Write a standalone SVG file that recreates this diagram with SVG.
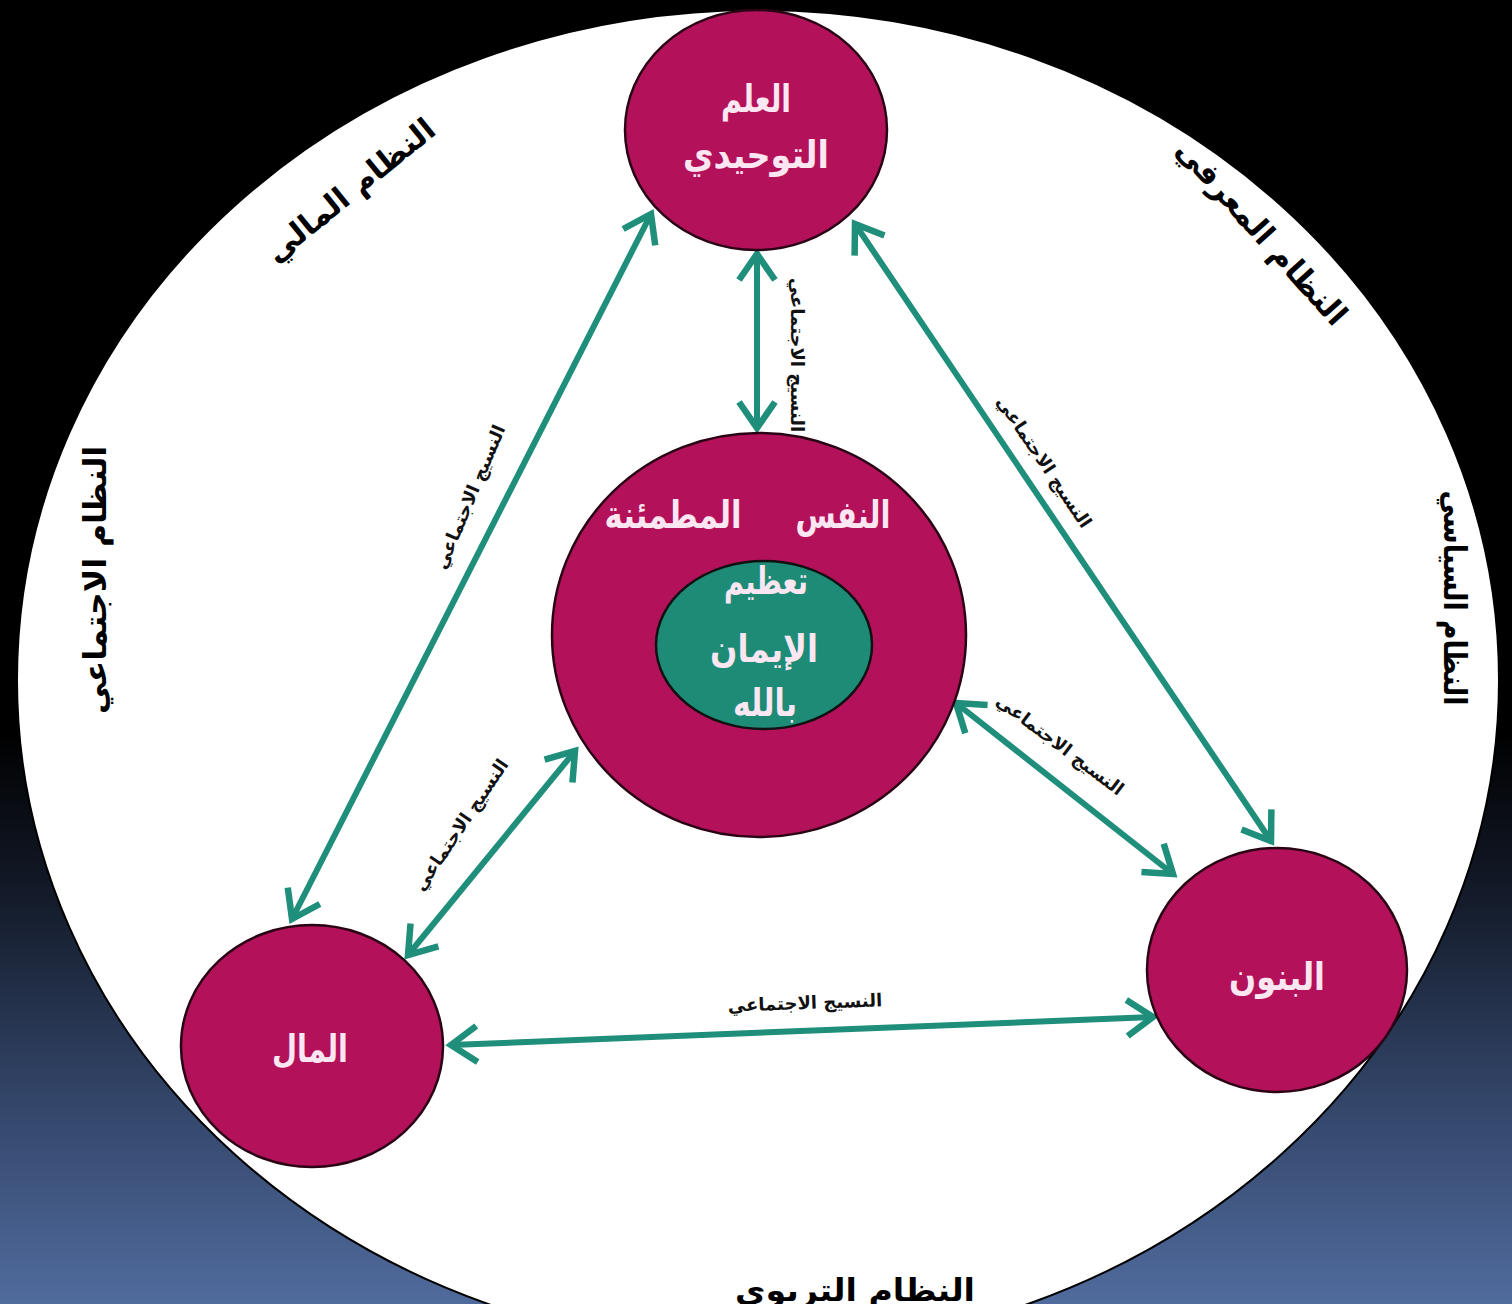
<svg xmlns="http://www.w3.org/2000/svg" width="1512" height="1304" viewBox="0 0 1512 1304">
  <defs>
    <linearGradient id="bg" x1="0" y1="0" x2="0" y2="1">
      <stop offset="0" stop-color="#000000"/>
      <stop offset="0.56" stop-color="#000000"/>
      <stop offset="0.68" stop-color="#121927"/>
      <stop offset="0.85" stop-color="#34476b"/>
      <stop offset="1" stop-color="#506b9d"/>
    </linearGradient>
    <marker id="head" viewBox="-40 -24 46 48" refX="0" refY="0" markerWidth="46" markerHeight="48" markerUnits="userSpaceOnUse" orient="auto-start-reverse">
      <path d="M-26,-18 L0,0 L-26,18" fill="none" stroke="#1f8e7a" stroke-width="6.5" stroke-linejoin="miter"/>
    </marker>
    <style>
      .node { fill: #b3115a; stroke: #2a0414; stroke-width: 2.5; }
      .core { fill: #1d8b76; stroke: #111; stroke-width: 2.5; }
      .nt { font-family: "DejaVu Sans", sans-serif; font-weight: bold; font-size: 38px; fill: #fbe6f2; text-anchor: middle; }
      .sys { font-family: "DejaVu Sans", sans-serif; font-weight: bold; font-size: 31px; fill: #000; text-anchor: middle; }
      .lbl { font-family: "DejaVu Sans", sans-serif; font-weight: bold; font-size: 18px; fill: #111; text-anchor: middle; }
      .conn { stroke: #1f8e7a; stroke-width: 6; fill: none; marker-start: url(#head); marker-end: url(#head); }
    </style>
  </defs>

  <rect x="0" y="0" width="1512" height="1304" fill="url(#bg)"/>
  <ellipse id="outer" cx="758" cy="680" rx="741" ry="670" fill="#ffffff" stroke="#000" stroke-width="2"/>

  <g id="systems">
    <text class="sys" transform="translate(350,190) rotate(-39)" y="11">النظام المالي</text>
    <text class="sys" transform="translate(1262,232) rotate(48)" y="11" textLength="238" lengthAdjust="spacingAndGlyphs">النظام المعرفي</text>
    <text class="sys" transform="translate(95,580) rotate(-90)" y="11" textLength="268" lengthAdjust="spacingAndGlyphs">النظام الاجتماعي</text>
    <text class="sys" transform="translate(1455,598) rotate(90)" y="11" textLength="215" lengthAdjust="spacingAndGlyphs">النظام السياسي</text>
    <text class="sys" x="855" y="1301" textLength="240" lengthAdjust="spacingAndGlyphs">النظام التربوي</text>
  </g>

  <g id="connectors">
    <line class="conn" x1="292" y1="919" x2="651" y2="214"/>
    <line class="conn" x1="757" y1="254" x2="757" y2="428"/>
    <line class="conn" x1="855" y1="224" x2="1271" y2="841"/>
    <line class="conn" x1="408" y1="955" x2="575" y2="751"/>
    <line class="conn" x1="956" y1="703" x2="1173" y2="874"/>
    <line class="conn" x1="451" y1="1045" x2="1153" y2="1017"/>
    <g id="connector-labels">
      <text class="lbl" transform="translate(470,497) rotate(-67)" y="6">النسيج الاجتماعي</text>
      <text class="lbl" transform="translate(797,355) rotate(90)" y="6">النسيج الاجتماعي</text>
      <text class="lbl" transform="translate(1044,462) rotate(56)" y="6">النسيج الاجتماعي</text>
      <text class="lbl" transform="translate(461,825) rotate(-56)" y="6">النسيج الاجتماعي</text>
      <text class="lbl" transform="translate(1060,745) rotate(37)" y="6">النسيج الاجتماعي</text>
      <text class="lbl" transform="translate(805,1003) rotate(-2)" y="6">النسيج الاجتماعي</text>
    </g>
  </g>

  <g id="node-ilm">
    <ellipse class="node" cx="756" cy="130" rx="131" ry="120"/>
    <text class="nt" x="756" y="112" textLength="70" lengthAdjust="spacingAndGlyphs">العلم</text>
    <text class="nt" x="756" y="168" textLength="146" lengthAdjust="spacingAndGlyphs">التوحيدي</text>
  </g>

  <g id="node-nafs">
    <ellipse class="node" cx="759" cy="635" rx="207" ry="202"/>
    <text class="nt" x="843" y="528" textLength="95" lengthAdjust="spacingAndGlyphs">النفس</text>
    <text class="nt" x="673" y="528" textLength="137" lengthAdjust="spacingAndGlyphs">المطمئنة</text>
    <g id="node-iman">
      <ellipse class="core" cx="764" cy="645" rx="108" ry="84"/>
      <text class="nt" x="766" y="594" textLength="84" lengthAdjust="spacingAndGlyphs">تعظيم</text>
      <text class="nt" x="764" y="662" textLength="108" lengthAdjust="spacingAndGlyphs">الإيمان</text>
      <text class="nt" x="765" y="716" textLength="64" lengthAdjust="spacingAndGlyphs">بالله</text>
    </g>
  </g>

  <g id="node-mal">
    <ellipse class="node" cx="312" cy="1046" rx="131" ry="121"/>
    <text class="nt" x="310" y="1062" textLength="76" lengthAdjust="spacingAndGlyphs">المال</text>
  </g>

  <g id="node-bunun">
    <ellipse class="node" cx="1277" cy="970" rx="130" ry="122"/>
    <text class="nt" x="1277" y="990" textLength="96" lengthAdjust="spacingAndGlyphs">البنون</text>
  </g>
</svg>
